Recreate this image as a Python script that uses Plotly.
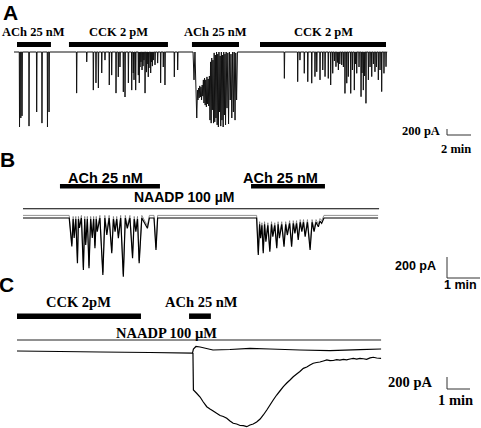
import plotly.graph_objects as go

# ---------------- Panel A (time in min, current in pA) ----------------
A_DRUGS = ["ACh 25 nM", "CCK 2 pM", "ACh 25 nM", "CCK 2 pM"]
A_ON = [0.25, 4.58, 14.83, 20.5]
A_OFF = [3.08, 12.83, 18.75, 31.0]
A_REC = [0.0, 31.1]
# isolated Ca2+-dependent current spikes: onset time (min), peak amplitude (pA)
A_SPIKE_T = [0.46, 0.57, 0.67, 1.25, 1.89, 2.33, 2.79, 2.92,
             5.22, 6.06, 6.61, 6.83, 7.03, 7.31, 7.58, 7.94, 8.14, 8.5, 8.69, 8.83,
             9.11, 9.25, 9.53, 9.81, 9.94, 10.0, 10.14, 10.36, 10.44, 10.5, 10.58,
             10.67, 10.75, 10.83, 10.92, 11.04, 11.1, 11.19, 11.25, 11.39, 11.46,
             11.53, 11.61, 11.75, 11.97, 12.22, 12.44, 12.58, 13.36, 13.64,
             22.53, 23.64, 23.83, 24.19, 24.48, 24.81, 25.08, 25.23, 25.5, 25.73,
             25.92, 26.19, 26.39, 26.56, 26.7, 26.83, 26.95, 27.03, 27.15, 27.31,
             27.45, 27.58, 27.73, 27.86, 28.06, 28.2, 28.36, 28.45, 28.56, 28.75,
             28.92, 29.0, 29.11, 29.22, 29.33, 29.53, 29.67, 29.81, 29.95, 30.08,
             30.2, 30.36, 30.5, 30.64, 30.83, 31.0]
A_SPIKE_AMP = [2500, 2200, 2130, 2470, 2000, 2370, 2500, 2000,
               1370, 330, 1270, 1030, 1200, 700, 270, 1100, 770, 1370, 830, 500,
               1330, 1500, 1030, 1270, 700, 930, 1270, 770, 1030, 500, 330,
               600, 470, 270, 1370, 670, 400, 830, 530, 700, 330,
               470, 270, 430, 370, 1030, 500, 1100, 830, 600,
               880, 990, 270, 710, 990, 1040, 820, 660, 930, 600,
               820, 880, 1100, 710, 300, 490, 350, 600, 400, 430,
               500, 1380, 1040, 820, 1380, 600, 1270, 400, 710, 500,
               1490, 700, 1270, 800, 1710, 930, 500, 820, 400, 660,
               500, 930, 600, 1320, 710, 490]
# sustained oscillatory burst during the second ACh application
A_BURST_T = [14.92, 15.00, 15.08, 15.23, 15.29, 15.33, 15.38, 15.43, 15.48, 15.53,
             15.58, 15.63, 15.68, 15.73, 15.78, 15.83, 15.88, 15.93, 15.98, 16.03,
             16.08, 16.13, 16.18, 16.23, 16.28, 16.33, 16.38, 16.43, 16.48, 16.53,
             16.58, 16.63, 16.68, 16.73, 16.78, 16.83, 16.88, 16.93, 16.98, 17.03,
             17.08, 17.13, 17.18, 17.23, 17.28, 17.33, 17.38, 17.43, 17.48, 17.53,
             17.58, 17.63, 17.68, 17.75, 17.82, 17.88, 17.95, 18.02, 18.08, 18.15,
             18.22, 18.28, 18.35, 18.42, 18.48, 18.55, 18.62]
A_BURST_I = [0, -930, 0, -2200, -1270, -1600, -1200, -1530, -1130, -1500,
             -1170, -1600, -1100, -1470, -930, -1700, -870, -1770, -930, -1830,
             -830, -1730, -900, -1800, -800, -2270, -330, -2370, -200, -1930,
             -270, -2370, -30, -2330, -100, -2200, 0, -2430, -70, -2500,
             0, -2000, -130, -2470, 0, -2270, -100, -2500, 0, -2100,
             -70, -2430, 0, -1870, -30, -2400, 0, -1600, -70, -2200,
             0, -2000, 0, -2270, -30, -1600, 0]
A_SCALE = (200, 2)  # pA, min

# ---------------- Panel B ----------------
B_DRUGS = ["ACh 25 nM", "ACh 25 nM"]
B_ON = [1.12, 6.91]
B_OFF = [4.15, 9.15]
B_PIPETTE = "NAADP 100 µM"
B_REC = [0.0, 10.76]
B_BURST1_T = [1.40, 1.48, 1.52, 1.55, 1.60, 1.65, 1.68, 1.71, 1.77, 1.83, 1.87, 1.90,
              1.95, 2.00, 2.05, 2.10, 2.14, 2.18, 2.22, 2.25, 2.33, 2.42, 2.48, 2.54,
              2.61, 2.69, 2.74, 2.79, 2.84, 2.89, 2.96, 3.04, 3.10, 3.16, 3.24, 3.32,
              3.37, 3.42, 3.47, 3.52, 3.60, 3.77, 3.83, 3.97, 4.03, 4.08]
B_BURST1_I = [0, -270, -10, -190, -10, -430, -10, -95, 0, -495, -10, -257,
              -10, -479, -10, -190, -10, -288, -10, -130, 0, -543, 0, -162,
              0, -336, -10, -130, -10, -193, 0, -559, 0, -98, 0, -384,
              -10, -130, -10, -431, 0, -98, 0, 0, -305, 0]
B_BURST2_T = [7.08, 7.13, 7.17, 7.20, 7.24, 7.28, 7.32, 7.36, 7.42, 7.48, 7.53, 7.57,
              7.63, 7.69, 7.73, 7.77, 7.84, 7.91, 7.96, 8.01, 8.08, 8.14, 8.19, 8.24,
              8.29, 8.34, 8.40, 8.45, 8.50, 8.55, 8.62, 8.70, 8.76, 8.82, 8.88, 8.95,
              9.00, 9.05, 9.12]
B_BURST2_I = [0, -352, -60, -193, -70, -336, -60, -226, -70, -321, -60, -178,
              -70, -288, -60, -193, -60, -273, -60, -162, -50, -273, -50, -146,
              -50, -209, -40, -130, -40, -178, -40, -305, -40, -130, -40, -83,
              -30, -50, 0]
B_SCALE = (200, 1)

# ---------------- Panel C ----------------
C_DRUGS = ["CCK 2pM", "ACh 25 nM"]
C_ON = [0.0, 7.48]
C_OFF = [5.39, 8.43]
C_PIPETTE = "NAADP 100 µM"
C_REC = [0.0, 15.83]
C_TOP_T = [0.0, 1.87, 3.61, 5.78, 7.63, 7.67, 7.78, 7.96, 8.52, 9.26, 10.13, 11.0,
           12.3, 13.61, 14.91, 15.83]
C_TOP_I = [17, 8, 0, -8, -17, 50, 92, 83, 33, 42, 62, 50, 33, 22, 38, 50]
C_LOW_T = [7.65, 7.67, 7.81, 7.96, 8.10, 8.25, 8.39, 8.53, 8.68, 8.83, 8.97, 9.12,
           9.26, 9.40, 9.55, 9.70, 9.84, 9.99, 10.13, 10.27, 10.42, 10.57, 10.71,
           10.86, 11.0, 11.14, 11.29, 11.43, 11.58, 11.73, 11.87, 12.01, 12.16,
           12.30, 12.45, 12.60, 12.74, 12.88, 13.03, 13.17, 13.32, 13.47, 13.61,
           13.75, 13.90, 14.04, 14.19, 14.33, 14.48, 14.62, 14.77, 14.91, 15.06,
           15.20, 15.35, 15.49, 15.64, 15.83]
C_LOW_I = [-17, -633, -688, -750, -833, -912, -950, -983, -1022, -1058, -1075, -1105,
           -1150, -1188, -1200, -1225, -1228, -1245, -1217, -1200, -1167, -1117, -1050,
           -967, -883, -800, -717, -650, -578, -517, -467, -412, -367,
           -325, -272, -250, -217, -188, -175, -167, -150, -133, -145,
           -142, -128, -135, -122, -130, -117, -108, -120, -105, -112,
           -122, -98, -88, -100, -105]
C_SCALE = (200, 1)

# ---------------- geometry helpers (pixel layout of the 481x428 figure) ----------------
W, H = 481, 428

PANELS = {
    "A": dict(x0=14, ppm=12, base=52, ppa=200 / 6, top=0, bot=160),
    "B": dict(x0=23, ppm=33, base=218, ppa=200 / 21, top=160, bot=290),
    "C": dict(x0=17, ppm=23, base=352, ppa=200 / 12, top=290, bot=428),
}

fig = go.Figure()
axis_names = {"A": ("x", "y"), "B": ("x2", "y2"), "C": ("x3", "y3")}


def px_to_t(p, xp):
    g = PANELS[p]
    return (xp - g["x0"]) / g["ppm"]


def py_to_i(p, yp):
    g = PANELS[p]
    return (g["base"] - yp) * g["ppa"]


def add_line(p, xs, ys, color="black", width=1.0):
    xa, ya = axis_names[p]
    fig.add_trace(go.Scatter(x=xs, y=ys, mode="lines", xaxis=xa, yaxis=ya,
                             line=dict(color=color, width=width, simplify=False),
                             hoverinfo="skip", showlegend=False))


def build_trace(rec, spikes_t, spikes_a, bursts, w1, w2):
    segs = []
    for t, a in zip(spikes_t, spikes_a):
        segs.append(([t - w1, t, t + w2], [0, -a, 0]))
    for bt, bi in bursts:
        segs.append((list(bt), list(bi)))
    segs.sort(key=lambda s: s[0][0])
    xs, ys = [rec[0]], [0]
    for sx, sy in segs:
        xs += sx
        ys += sy
    xs.append(rec[1])
    ys.append(0)
    return xs, ys


def add_bars(p, on, off, y_px, width):
    xa, ya = axis_names[p]
    yv = py_to_i(p, y_px)
    for a, b in zip(on, off):
        fig.add_trace(go.Scatter(x=[a, b], y=[yv, yv], mode="lines", xaxis=xa, yaxis=ya,
                                 line=dict(color="black", width=width),
                                 hoverinfo="skip", showlegend=False))


def add_text(p, t, i, text, size, family, xanchor="center", xshift=0):
    xa, ya = axis_names[p]
    fig.add_annotation(x=t, y=i, xref=xa, yref=ya, text="<b>" + text + "</b>",
                       showarrow=False, xanchor=xanchor, yanchor="middle", xshift=xshift,
                       font=dict(family=family, size=size, color="black"))


def add_scale(p, scale, x_px, ytop_px, color="#333"):
    pa, mn = scale
    t0 = px_to_t(p, x_px)
    i0 = py_to_i(p, ytop_px)
    add_line(p, [t0, t0, t0 + mn], [i0, i0 - pa, i0 - pa], color=color, width=1)


SERIF = "Liberation Serif"
SANS = "Liberation Sans"

# ---- Panel A ----
xs, ys = build_trace(A_REC, A_SPIKE_T, A_SPIKE_AMP, [(A_BURST_T, A_BURST_I)], 0.02, 0.03)
add_line("A", xs, ys, color="#111", width=1.0)
add_bars("A", A_ON, A_OFF, 44.5, 5)
for name, a, b in zip(A_DRUGS, A_ON, A_OFF):
    add_text("A", (a + b) / 2, py_to_i("A", 32), name, 12.5, SERIF)
add_scale("A", A_SCALE, 447, 129)
add_text("A", px_to_t("A", 442), py_to_i("A", 131), f"{A_SCALE[0]} pA", 12.5, SERIF, "right")
add_text("A", px_to_t("A", 456), py_to_i("A", 148.5), f"{A_SCALE[1]} min", 12.5, SERIF)

# ---- Panel B ----
xs, ys = build_trace(B_REC, [], [], [(B_BURST1_T, B_BURST1_I), (B_BURST2_T, B_BURST2_I)], 0, 0)
shift = 2.6 * PANELS["B"]["ppa"]  # thick pen drawn as a double line
add_line("B", xs, [v + shift for v in ys], color="#777", width=0.8)
add_line("B", xs, ys, width=1.2)
add_line("B", [0, 10.79], [py_to_i("B", 208.8)] * 2, width=1.1)
add_bars("B", B_ON, B_OFF, 186.3, 4.5)
for k, (name, a, b) in enumerate(zip(B_DRUGS, B_ON, B_OFF)):
    add_text("B", (a + b) / 2, py_to_i("B", 177.8), name, 14.5, SANS, xshift=[-4, -7][k])
add_text("B", px_to_t("B", 183.5), py_to_i("B", 197.2), B_PIPETTE, 14, SANS)
add_scale("B", B_SCALE, 447, 257)
add_text("B", px_to_t("B", 438), py_to_i("B", 265.5), f"{B_SCALE[0]} pA", 12.5, SANS, "right")
add_text("B", px_to_t("B", 460.5), py_to_i("B", 285), f"{B_SCALE[1]} min", 12.5, SANS)

# ---- Panel C ----
add_line("C", C_TOP_T, C_TOP_I, width=1.2)
add_line("C", C_LOW_T, C_LOW_I, width=1.2)
add_line("C", C_REC, [py_to_i("C", 340)] * 2, color="#222", width=1.0)
add_bars("C", C_ON, C_OFF, 316.2, 5.5)
for k, (name, a, b) in enumerate(zip(C_DRUGS, C_ON, C_OFF)):
    add_text("C", (a + b) / 2, py_to_i("C", 301.5), name, 14.5, SERIF, xshift=[0, 2][k])
add_text("C", px_to_t("C", 166.7), py_to_i("C", 333), C_PIPETTE, 14.5, SERIF)
add_scale("C", C_SCALE, 447, 377)
add_text("C", px_to_t("C", 434), py_to_i("C", 381.5), f"{C_SCALE[0]} pA", 14.5, SERIF, "right")
add_text("C", px_to_t("C", 455), py_to_i("C", 399.5), f"{C_SCALE[1]} min", 14.5, SERIF)

# ---- panel letters ----
for letter, xp, yp in [("A", 10.5, 12.5), ("B", 7.5, 159.5), ("C", 6.5, 284.5)]:
    fig.add_annotation(x=xp / W, y=1 - yp / H, xref="paper", yref="paper",
                       text="<b>" + letter + "</b>", showarrow=False,
                       xanchor="center", yanchor="middle",
                       font=dict(family=SANS, size=21, color="black"))

layout_axes = {}
for p, (xa, ya) in axis_names.items():
    g = PANELS[p]
    xr = [-g["x0"] / g["ppm"], (W - g["x0"]) / g["ppm"]]
    yr = [(g["base"] - g["bot"]) * g["ppa"], (g["base"] - g["top"]) * g["ppa"]]
    layout_axes["xaxis" + xa[1:]] = dict(domain=[0, 1], range=xr, visible=False,
                                         fixedrange=True, anchor=ya)
    layout_axes["yaxis" + ya[1:]] = dict(domain=[1 - g["bot"] / H, 1 - g["top"] / H],
                                         range=yr, visible=False, fixedrange=True, anchor=xa)

fig.update_layout(width=W, height=H, margin=dict(l=0, r=0, t=0, b=0),
                  paper_bgcolor="white", plot_bgcolor="white", showlegend=False,
                  **layout_axes)

fig.write_html("out.html", config={"displayModeBar": False},
               post_script="document.body.style.margin='0';document.body.style.overflow='hidden';")
